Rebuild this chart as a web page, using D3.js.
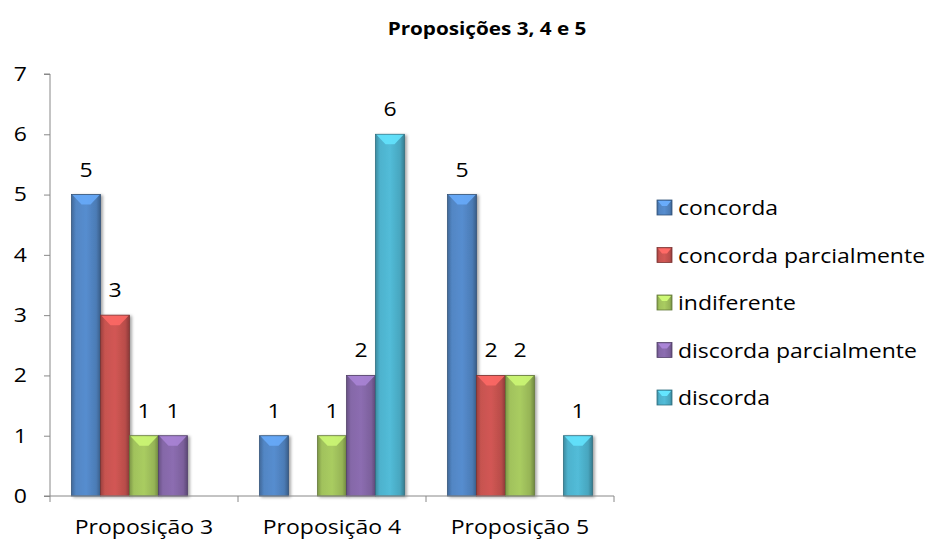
<!DOCTYPE html>
<html>
<head>
<meta charset="utf-8">
<script src="https://cdn.jsdelivr.net/npm/d3@7"></script>
<style>
  html, body { margin: 0; padding: 0; background: #fff; }
  svg { display: block; font-family: "Open Sans", Lato, sans-serif; }
</style>
</head>
<body>
<svg id="chart" width="930" height="541"></svg>
<script>
// Survey answers per proposition
const categories = ["Proposição 3", "Proposição 4", "Proposição 5"];
const seriesNames = ["concorda", "concorda parcialmente", "indiferente", "discorda parcialmente", "discorda"];
const concorda = [5, 1, 5];
const concordaParcialmente = [3, 0, 2];
const indiferente = [1, 1, 2];
const discordaParcialmente = [1, 2, 0];
const discorda = [0, 6, 1];
const yTicks = [0, 1, 2, 3, 4, 5, 6, 7];
const colors = ["#4f81bd", "#c0504d", "#9bbb59", "#8064a2", "#4bacc6"];

const seriesValues = [concorda, concordaParcialmente, indiferente, discordaParcialmente, discorda];

const svg = d3.select("#chart");
const plot = { left: 50, right: 614, top: 74, bottom: 496 };
const fontSize = 20;
const stretch = 1.15; // slightly wide lettering

// place text at (x, y) with horizontal stretch
const place = (x, yy) => `translate(${x},${yy}) scale(${stretch},1)`;

const x0 = d3.scaleBand().domain(categories)
  .range([plot.left, plot.right]).paddingInner(0.229).paddingOuter(0.1145);
const x1 = d3.scaleBand().domain(seriesNames).range([0, x0.bandwidth()]);
const y = d3.scaleLinear().domain([0, 7]).range([plot.bottom, plot.top]);

// Gradients giving the bevelled look of each series
const defs = svg.append("defs");
colors.forEach((c, i) => {
  const base = d3.color(c);
  const g = defs.append("linearGradient").attr("id", "grad" + i)
    .attr("x1", "0").attr("x2", "1").attr("y1", "0").attr("y2", "0");
  g.append("stop").attr("offset", "0%").attr("stop-color", base.darker(0.6));
  g.append("stop").attr("offset", "15%").attr("stop-color", base.brighter(0.1));
  g.append("stop").attr("offset", "50%").attr("stop-color", base.brighter(0.25));
  g.append("stop").attr("offset", "85%").attr("stop-color", base.darker(0.1));
  g.append("stop").attr("offset", "100%").attr("stop-color", base.darker(0.9));
});
const shadow = defs.append("filter").attr("id", "shadow")
  .attr("x", "-20%").attr("y", "-5%").attr("width", "150%").attr("height", "115%");
shadow.append("feDropShadow").attr("dx", 2).attr("dy", 1).attr("stdDeviation", 1.5)
  .attr("flood-color", "#000").attr("flood-opacity", 0.35);

// Title
svg.append("text").attr("transform", place(487, 35)).attr("text-anchor", "middle")
  .attr("font-size", 18).attr("font-weight", "bold").attr("fill", "#000")
  .text("Proposições 3, 4 e 5");

// Y axis
const yAxis = d3.axisLeft(y).tickValues(yTicks).tickFormat(d3.format("d")).tickSize(6).tickPadding(17);
const gy = svg.append("g").attr("transform", `translate(${plot.left},0)`).call(yAxis);
gy.select(".domain").attr("stroke", "#888").attr("d", `M-6,${plot.top}H0V${plot.bottom}`);
gy.selectAll(".tick line").attr("stroke", "#888");
gy.selectAll(".tick text").attr("font-size", fontSize).attr("fill", "#000")
  .attr("font-family", "'Open Sans', sans-serif")
  .attr("transform", `scale(${stretch},1)`)
  .attr("x", -23 / stretch);

// Bars
const bars = [];
seriesValues.forEach((vals, si) => {
  vals.forEach((v, ci) => {
    if (v > 0) bars.push({ s: si, c: ci, v });
  });
});

const barG = svg.append("g");
const bg = barG.selectAll("g.bar").data(bars).join("g").attr("class", "bar");
bg.each(function (d) {
  const g = d3.select(this);
  const bx = x0(categories[d.c]) + x1(seriesNames[d.s]);
  const bw = x1.bandwidth();
  const by = y(d.v);
  const bh = y(0) - by;
  const base = d3.color(colors[d.s]);
  g.append("rect").attr("x", bx).attr("y", by).attr("width", bw).attr("height", bh)
    .attr("fill", `url(#grad${d.s})`).attr("stroke", base.darker(1.2)).attr("stroke-width", 0.8)
    .attr("filter", "url(#shadow)");
  // top bevel highlight
  const bev = Math.min(10, bh);
  g.append("path")
    .attr("d", `M${bx + 1},${by + 0.5}L${bx + bw - 1},${by + 0.5}L${bx + bw - bev},${by + bev}L${bx + bev},${by + bev}Z`)
    .attr("fill", base.brighter(0.8)).attr("opacity", 0.85);
  // data label
  g.append("text").attr("transform", place(bx + bw / 2, by - 18)).attr("text-anchor", "middle")
    .attr("font-size", fontSize).attr("fill", "#000").text(d.v);
});

// X axis (drawn over bar bottoms)
const gx = svg.append("g").attr("transform", `translate(0,${plot.bottom})`);
gx.append("line").attr("x1", plot.left - 6).attr("x2", plot.right).attr("stroke", "#888");
const bounds = [plot.left].concat(categories.map(c => x0(c) - x0.step() * x0.paddingInner() / 2 + x0.step()));
bounds[bounds.length - 1] = plot.right;
gx.selectAll("line.tk").data(bounds).join("line").attr("class", "tk")
  .attr("x1", d => d).attr("x2", d => d).attr("y1", 0).attr("y2", 6).attr("stroke", "#888");
gx.selectAll("text").data(categories).join("text")
  .attr("transform", d => place(x0(d) + x0.bandwidth() / 2, 38))
  .attr("text-anchor", "middle").attr("font-size", fontSize).attr("fill", "#000").text(d => d);

// Legend
const lg = svg.append("g").attr("transform", "translate(657,200)");
const item = lg.selectAll("g").data(seriesNames).join("g")
  .attr("transform", (d, i) => `translate(0,${i * 47.5})`);
item.append("rect").attr("width", 15).attr("height", 15)
  .attr("fill", (d, i) => `url(#grad${i})`).attr("stroke", (d, i) => d3.color(colors[i]).darker(1.2)).attr("stroke-width", 0.8);
item.append("path").attr("d", "M1,1L14,1L10,6L5,6Z").attr("fill", (d, i) => d3.color(colors[i]).brighter(0.8));
item.append("text").attr("transform", place(21, 15)).attr("font-size", fontSize).attr("fill", "#000").text(d => d);
</script>
</body>
</html>
